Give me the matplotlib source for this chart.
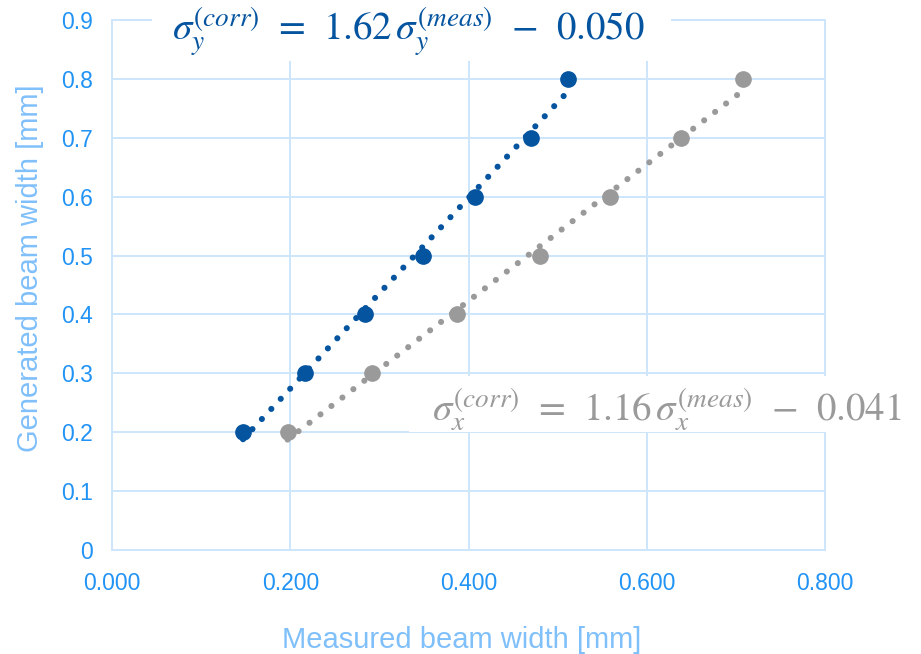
import matplotlib
matplotlib.use("Agg")
from matplotlib import pyplot as plt
from matplotlib.patches import Rectangle
import numpy as np

# measured vs generated beam width [mm]
generated = [0.2, 0.3, 0.4, 0.5, 0.6, 0.7, 0.8]
meas_y = [0.147, 0.217, 0.284, 0.349, 0.407, 0.470, 0.512]
meas_x = [0.197, 0.292, 0.387, 0.480, 0.559, 0.638, 0.708]

# linear trend coefficients (slope, offset)
fit_y = (1.62, -0.050)
fit_x = (1.16, -0.041)

x_ticks = [0.0, 0.2, 0.4, 0.6, 0.8]
y_ticks = [0.0, 0.1, 0.2, 0.3, 0.4, 0.5, 0.6, 0.7, 0.8, 0.9]

blue = "#0454A0"
grey = "#9A9A9A"
tick_col = "#2193F5"
label_col = "#80C0FA"
grid_col = "#CDE6FB"

plt.rcParams["font.family"] = ["Liberation Sans", "DejaVu Sans"]
plt.rcParams["mathtext.fontset"] = "stix"

fig = plt.figure(figsize=(9.21, 6.54), dpi=100)
ax = fig.add_axes([0.1216, 0.159, 0.7742, 0.8104])

for meas, (a, b), col in [(meas_y, fit_y, blue), (meas_x, fit_x, grey)]:
    xs = np.array([min(meas), max(meas)])
    ax.plot(xs, a * xs + b, color=col, lw=4.4, dashes=(0.01, 2.25),
            dash_capstyle="round", zorder=3)
    ax.plot(meas, generated, "o", color=col, ms=11, zorder=4)

ax.set_xlim(0, 0.8)
ax.set_ylim(0, 0.9)
ax.set_xticks(x_ticks)
ax.set_yticks(y_ticks)
ax.set_xticklabels(["%.3f" % v for v in x_ticks])
ax.set_yticklabels(["0"] + ["%.1f" % v for v in y_ticks[1:]])
ax.tick_params(length=0, labelsize=16.5, colors=tick_col)
ax.tick_params(axis="y", pad=14)
ax.tick_params(axis="x", pad=16)
ax.grid(True, color=grid_col, lw=1.4)
ax.set_axisbelow(True)
for s in ax.spines.values():
    s.set_color(grid_col)
    s.set_linewidth(1.4)

ax.set_xlabel("Measured beam width [mm]", fontsize=21, color=label_col, labelpad=22)
ax.set_ylabel("Generated beam width [mm]", fontsize=21, color=label_col, labelpad=12)
ax.xaxis.label.set_x(0.491)
ax.yaxis.label.set_y(0.532)

# white boxes behind the trend equations
fig.add_artist(Rectangle((0.165, 0.9067), 0.5635, 0.1, transform=fig.transFigure,
                         facecolor="white", edgecolor="none", zorder=5))
fig.add_artist(Rectangle((0.444, 0.3394), 0.556, 0.0856, transform=fig.transFigure,
                         facecolor="white", edgecolor="none", zorder=5))

fig.text(0.1868, 0.951,
         r"$\sigma_y^{(corr)}\;\,=\;\,1.62\,\sigma_y^{(meas)}\;\,-\;\,0.050$",
         fontsize=28, color=blue, va="center", ha="left", zorder=6)
fig.text(0.469, 0.373,
         r"$\sigma_x^{(corr)}\;\,=\;\,1.16\,\sigma_x^{(meas)}\;\,-\;\,0.041$",
         fontsize=28, color=grey, va="center", ha="left", zorder=6)

fig.savefig("out.png", dpi=100)
